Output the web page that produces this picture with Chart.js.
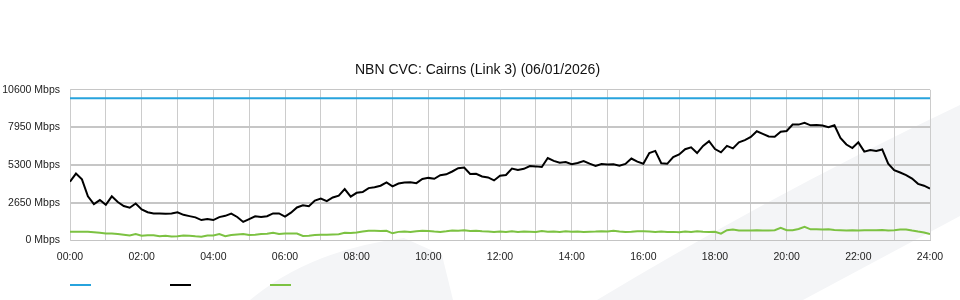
<!DOCTYPE html>
<html>
<head>
<meta charset="utf-8">
<title>NBN CVC: Cairns (Link 3)</title>
<script src="https://cdn.jsdelivr.net/npm/chart.js@4/dist/chart.umd.min.js"></script>
<style>
    html, body { margin: 0; padding: 0; background: #fff; }
    #wrap { position: relative; width: 960px; height: 300px; overflow: hidden; }
    #bg { position: absolute; left: 0; top: 0; }
    #cvcChart { position: absolute; left: 0; top: 0; }
</style>
</head>
<body>
<div id="wrap">
    <svg id="bg" width="960" height="300">
        <path d="M250,300 Q310,250 404,238 L442,255 L453,300 Z" fill="#f4f5f7"/>
        <path d="M597,300 Q780,190 960,105 L960,216 L803,300 Z" fill="#f4f5f7"/>
    </svg>
    <canvas id="cvcChart" width="960" height="300"></canvas>
</div>
<script>
var chartTitle = 'NBN CVC: Cairns (Link 3) (06/01/2026)';

// capacity of the link (flat)
var capacityTimes = [0, 24];
var capacityMbps = [10000, 10000];

// 10 minute samples, 00:00 -> 24:00
var downloadMbps = [
    4130, 4700, 4300, 3100, 2560, 2840,
    2500, 3100, 2700, 2420, 2300, 2600,
    2180, 1980, 1900, 1900, 1880, 1900,
    1980, 1800, 1710, 1620, 1430, 1500,
    1430, 1640, 1730, 1890, 1650, 1300,
    1500, 1700, 1640, 1700, 1900, 1900,
    1680, 1950, 2320, 2470, 2400, 2800,
    2950, 2760, 3020, 3150, 3610, 3080,
    3350, 3400, 3680, 3740, 3850, 4080,
    3800, 4000, 4080, 4100, 4030, 4320,
    4400, 4340, 4590, 4650, 4850, 5080,
    5130, 4680, 4690, 4500, 4430, 4220,
    4550, 4600, 5050, 4950, 5040, 5230,
    5210, 5170, 5800, 5600, 5470, 5520,
    5360, 5450, 5580, 5400, 5240, 5380,
    5350, 5360, 5260, 5380, 5760, 5540,
    5400, 6150, 6300, 5430, 5390, 5870,
    6050, 6420, 6550, 6150, 6650, 6980,
    6430, 6200, 6650, 6480, 6900, 7060,
    7280, 7680, 7500, 7320, 7300, 7650,
    7700, 8150, 8150, 8280, 8100, 8130,
    8080, 7970, 8100, 7220, 6750, 6500,
    6900, 6250, 6360, 6300, 6400, 5400,
    4950, 4780, 4600, 4350, 3980, 3850,
    3650
];

var uploadMbps = [
    610, 610, 610, 610, 580, 540,
    490, 490, 450, 400, 350, 450,
    330, 370, 370, 300, 330, 280,
    300, 350, 330, 290, 260, 350,
    350, 450, 290, 380, 420, 450,
    380, 400, 450, 470, 540, 450,
    490, 490, 480, 310, 330, 380,
    390, 400, 420, 430, 540, 520,
    560, 620, 680, 680, 660, 680,
    500, 600, 620, 600, 640, 680,
    660, 620, 600, 640, 700, 680,
    720, 660, 680, 640, 620, 600,
    620, 600, 650, 600, 620, 610,
    600, 660, 610, 620, 600, 640,
    610, 620, 600, 610, 620, 640,
    620, 680, 620, 600, 610, 640,
    640, 620, 600, 620, 600, 600,
    580, 620, 600, 640, 610, 600,
    610, 480, 720, 760, 700, 700,
    700, 720, 700, 700, 720, 880,
    720, 720, 800, 960, 780, 780,
    770, 780, 740, 720, 700, 720,
    700, 720, 720, 720, 740, 700,
    720, 760, 770, 690, 620, 560,
    440
];

var yMax = 10600;
var yStep = 2650;

// sample times in hours
var sampleHours = [];
for (var m = 0; m <= 24 * 60; m += 10) {
    sampleHours.push(m / 60);
}

function toPoints(times, values) {
    return values.map(function(v, i) {
        return {x: times[i], y: v};
    });
}

function hourLabel(h) {
    return (h < 10 ? '0' : '') + h + ':00';
}

// simple legend: short coloured lines, no text
var lineLegend = {
    id: 'lineLegend',
    afterDraw: function(chart) {
        var ctx = chart.ctx;
        var y = chart.height - 15;
        ctx.save();
        ctx.lineWidth = 2;
        chart.data.datasets.forEach(function(ds, i) {
            var x = chart.chartArea.left + i * 100;
            ctx.strokeStyle = ds.borderColor;
            ctx.beginPath();
            ctx.moveTo(x, y);
            ctx.lineTo(x + 21, y);
            ctx.stroke();
        });
        ctx.restore();
    }
};

Chart.defaults.font.family = '"Liberation Sans", Arial, sans-serif';
Chart.defaults.color = '#222';

var ctx = document.getElementById('cvcChart');
var cvcChart = new Chart(ctx, {
    type: 'line',
    data: {
        datasets: [
            {
                label: 'Capacity',
                data: toPoints(capacityTimes, capacityMbps),
                borderColor: '#27a3dd',
                borderWidth: 2,
                pointRadius: 0
            },
            {
                label: 'Download',
                data: toPoints(sampleHours, downloadMbps),
                borderColor: '#000000',
                borderWidth: 2,
                pointRadius: 0
            },
            {
                label: 'Upload',
                data: toPoints(sampleHours, uploadMbps),
                borderColor: '#7cc242',
                borderWidth: 2,
                pointRadius: 0
            }
        ]
    },
    options: {
        responsive: false,
        animation: false,
        layout: {
            padding: {top: 62, right: 5, bottom: 27, left: 0}
        },
        plugins: {
            legend: {display: false},
            tooltip: {enabled: false},
            title: {
                display: true,
                text: chartTitle,
                color: '#111',
                font: {size: 14, weight: 'normal'},
                padding: {top: 0, bottom: 11}
            }
        },
        scales: {
            x: {
                type: 'linear',
                min: 0,
                max: 24,
                ticks: {
                    stepSize: 1,
                    autoSkip: false,
                    maxRotation: 0,
                    padding: 10,
                    font: {size: 10.5},
                    callback: function(v) {
                        return v % 2 === 0 ? hourLabel(v) : '';
                    }
                },
                grid: {color: '#cccccc', drawTicks: false},
                border: {color: '#c4c4c4'}
            },
            y: {
                min: 0,
                max: yMax,
                afterFit: function(scale) {
                    scale.width = 70;
                },
                ticks: {
                    stepSize: yStep,
                    padding: 10,
                    font: {size: 10.5},
                    callback: function(v) {
                        return v + ' Mbps';
                    }
                },
                grid: {
                    color: '#c6c6c6',
                    drawTicks: false,
                    lineWidth: function(c) {
                        return (c.tick && (c.tick.value === 0 || c.tick.value === yMax)) ? 1 : 2;
                    }
                },
                border: {color: '#cccccc'}
            },
            // empty right-hand axis, just keeps the right margin
            yRight: {
                position: 'right',
                min: 0,
                max: yMax,
                afterFit: function(scale) {
                    scale.width = 25;
                },
                ticks: {display: false},
                grid: {display: false},
                border: {display: false}
            }
        }
    },
    plugins: [lineLegend]
});
</script>
</body>
</html>
